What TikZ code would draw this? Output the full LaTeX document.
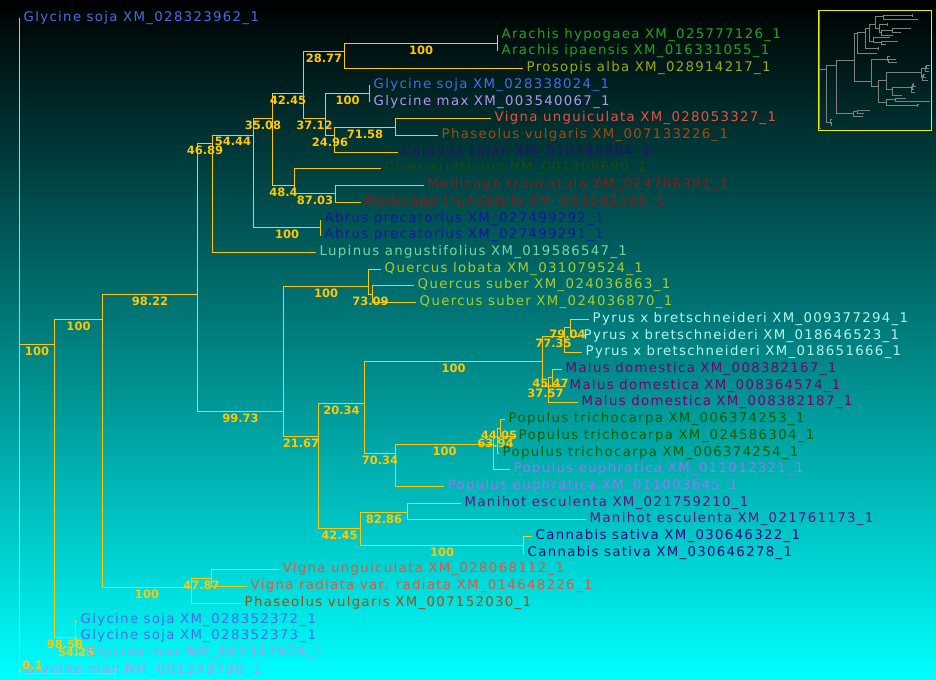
\documentclass[tikz,border=0pt]{standalone}
\usepackage{fontspec}
\setmainfont{DejaVu Sans}
\newfontfamily\leaffamily{DejaVu Sans}[LetterSpace=10]

\definecolor{branchgold}{RGB}{255,200,0}
\definecolor{bgcyan}{RGB}{0,255,255}
\definecolor{insetyellow}{RGB}{240,240,0}
\definecolor{minigray}{RGB}{128,128,128}
\definecolor{cSoja}{RGB}{70,110,230}
\definecolor{cMax}{RGB}{180,150,235}
\definecolor{cArachis}{RGB}{30,165,30}
\definecolor{cProsopis}{RGB}{160,170,10}
\definecolor{cVigna}{RGB}{225,85,65}
\definecolor{cPhas}{RGB}{165,75,10}
\definecolor{cCajanus}{RGB}{30,20,100}
\definecolor{cCicer}{RGB}{25,75,20}
\definecolor{cMedi}{RGB}{130,30,25}
\definecolor{cAbrus}{RGB}{20,20,170}
\definecolor{cLupinus}{RGB}{120,215,160}
\definecolor{cQuercus}{RGB}{170,205,40}
\definecolor{cPyrus}{RGB}{180,245,235}
\definecolor{cMalus}{RGB}{120,0,110}
\definecolor{cPopTri}{RGB}{0,95,0}
\definecolor{cPopEup}{RGB}{150,120,240}
\definecolor{cManihot}{RGB}{110,10,130}
\definecolor{cCannabis}{RGB}{10,10,120}

\newcommand{\leaffont}{\leaffamily\fontsize{13.3bp}{16bp}\selectfont}
\newcommand{\bootfont}{\bfseries\fontsize{11.5bp}{13bp}\selectfont}
% bootstrap value; the overview in the corner gobbles it
\newcommand{\bootval}[1]{#1}

% the tree itself, so that the overview in the corner can reuse it
\newcommand{\phylotree}[1]{%
    % Define the internal nodes, at the point where their branch comes in
    \coordinate (#1root) at (19,344);
    \coordinate (#1n1) at (54,344);
    \coordinate (#1n2) at (102,319);
    \coordinate (#1n3) at (75,637);
    \coordinate (#1n4) at (76,645);
    \coordinate (#1n5) at (197,294);
    \coordinate (#1n6) at (191,587);
    \coordinate (#1n7) at (211,578);
    \coordinate (#1n8) at (212,143);
    \coordinate (#1n9) at (283,411);
    \coordinate (#1n10) at (253,135);
    \coordinate (#1n11) at (272,118);
    \coordinate (#1n12) at (320,227);
    \coordinate (#1n13) at (303,93);
    \coordinate (#1n14) at (294,185);
    \coordinate (#1n15) at (335,193);
    \coordinate (#1n16) at (344,51);
    \coordinate (#1n17) at (325,118);
    \coordinate (#1n18) at (497,43);
    \coordinate (#1n19) at (369,93);
    \coordinate (#1n20) at (334,135);
    \coordinate (#1n21) at (395,127);
    \coordinate (#1n22) at (368,286);
    \coordinate (#1n23) at (372,294);
    \coordinate (#1n24) at (318,436);
    \coordinate (#1n25) at (364,403);
    \coordinate (#1n26) at (360,528);
    \coordinate (#1n27) at (542,361);
    \coordinate (#1n28) at (395,453);
    \coordinate (#1n29) at (564,336);
    \coordinate (#1n30) at (570,327);
    \coordinate (#1n31) at (548,386);
    \coordinate (#1n32) at (552,377);
    \coordinate (#1n33) at (493,444);
    \coordinate (#1n34) at (497,436);
    \coordinate (#1n35) at (500,428);
    \coordinate (#1n36) at (407,512);
    \coordinate (#1n37) at (523,545);
    % Define the leaves, at the end of their branch
    \coordinate (#1gsoja1) at (19,18);
    \coordinate (#1arahyp) at (497,35);
    \coordinate (#1araipa) at (497,51);
    \coordinate (#1prosopis) at (522,68);
    \coordinate (#1gsoja2) at (369,85);
    \coordinate (#1gmax1) at (369,102);
    \coordinate (#1vigna1) at (490,118);
    \coordinate (#1phas1) at (437,135);
    \coordinate (#1cajanus) at (397,152);
    \coordinate (#1cicer) at (380,168);
    \coordinate (#1medi1) at (423,185);
    \coordinate (#1medi2) at (360,202);
    \coordinate (#1abrus1) at (320,219);
    \coordinate (#1abrus2) at (320,235);
    \coordinate (#1lupinus) at (315,252);
    \coordinate (#1qlob) at (380,269);
    \coordinate (#1qsub1) at (413,285);
    \coordinate (#1qsub2) at (415,302);
    \coordinate (#1pyrus1) at (588,319);
    \coordinate (#1pyrus2) at (579,336);
    \coordinate (#1pyrus3) at (581,352);
    \coordinate (#1malus1) at (561,369);
    \coordinate (#1malus2) at (565,386);
    \coordinate (#1malus3) at (577,402);
    \coordinate (#1ptri1) at (504,419);
    \coordinate (#1ptri2) at (514,436);
    \coordinate (#1ptri3) at (498,453);
    \coordinate (#1peup1) at (509,469);
    \coordinate (#1peup2) at (443,486);
    \coordinate (#1mani1) at (460,503);
    \coordinate (#1mani2) at (585,519);
    \coordinate (#1cann1) at (531,536);
    \coordinate (#1cann2) at (523,553);
    \coordinate (#1vigna2) at (278,569);
    \coordinate (#1vradiata) at (246,586);
    \coordinate (#1phas2) at (240,603);
    \coordinate (#1gsoja3) at (76,620);
    \coordinate (#1gsoja4) at (76,636);
    \coordinate (#1gmax2) at (82,653);
    \coordinate (#1gmax3) at (20,670);
    % Draw the branches, with the bootstrap values under them
    \draw[branch] (#1root) |- (#1gsoja1);
    \draw[branch] (#1root) |- node[boot]{\bootval{100}} (#1n1);
    \draw[branch] (#1root) |- (#1gmax3);
    \draw[branch] (#1n1) |- node[boot]{\bootval{100}} (#1n2);
    \draw[branch] (#1n1) |- node[boot]{\bootval{98.58}} (#1n3);
    \draw[branch] (#1n3) |- (#1gsoja3);
    \draw[branch] (#1n3) |- node[boot]{\bootval{54.26}} (#1n4);
    \draw[branch] (#1n4) |- (#1gsoja4);
    \draw[branch] (#1n4) |- (#1gmax2);
    \draw[branch] (#1n2) |- node[boot]{\bootval{98.22}} (#1n5);
    \draw[branch] (#1n2) |- node[boot]{\bootval{100}} (#1n6);
    \draw[branch] (#1n6) |- node[boot]{\bootval{47.87}} (#1n7);
    \draw[branch] (#1n6) |- (#1phas2);
    \draw[branch] (#1n7) |- (#1vigna2);
    \draw[branch] (#1n7) |- (#1vradiata);
    \draw[branch] (#1n5) |- node[boot]{\bootval{46.89}} (#1n8);
    \draw[branch] (#1n5) |- node[boot]{\bootval{99.73}} (#1n9);
    \draw[branch] (#1n8) |- node[boot]{\bootval{54.44}} (#1n10);
    \draw[branch] (#1n8) |- (#1lupinus);
    \draw[branch] (#1n10) |- node[boot]{\bootval{35.08}} (#1n11);
    \draw[branch] (#1n10) |- node[boot]{\bootval{100}} (#1n12);
    \draw[branch] (#1n12) |- (#1abrus1);
    \draw[branch] (#1n12) |- (#1abrus2);
    \draw[branch] (#1n11) |- node[boot]{\bootval{42.45}} (#1n13);
    \draw[branch] (#1n11) |- node[boot]{\bootval{48.4}} (#1n14);
    \draw[branch] (#1n14) |- (#1cicer);
    \draw[branch] (#1n14) |- node[boot]{\bootval{87.03}} (#1n15);
    \draw[branch] (#1n15) |- (#1medi1);
    \draw[branch] (#1n15) |- (#1medi2);
    \draw[branch] (#1n13) |- node[boot]{\bootval{28.77}} (#1n16);
    \draw[branch] (#1n13) |- node[boot]{\bootval{37.12}} (#1n17);
    \draw[branch] (#1n16) |- node[boot]{\bootval{100}} (#1n18);
    \draw[branch] (#1n16) |- (#1prosopis);
    \draw[branch] (#1n18) |- (#1arahyp);
    \draw[branch] (#1n18) |- (#1araipa);
    \draw[branch] (#1n17) |- node[boot]{\bootval{100}} (#1n19);
    \draw[branch] (#1n17) |- node[boot]{\bootval{24.96}} (#1n20);
    \draw[branch] (#1n19) |- (#1gsoja2);
    \draw[branch] (#1n19) |- (#1gmax1);
    \draw[branch] (#1n20) |- node[boot]{\bootval{71.58}} (#1n21);
    \draw[branch] (#1n20) |- (#1cajanus);
    \draw[branch] (#1n21) |- (#1vigna1);
    \draw[branch] (#1n21) |- (#1phas1);
    \draw[branch] (#1n9) |- node[boot]{\bootval{100}} (#1n22);
    \draw[branch] (#1n9) |- node[boot]{\bootval{21.67}} (#1n24);
    \draw[branch] (#1n22) |- (#1qlob);
    \draw[branch] (#1n22) |- node[boot]{\bootval{73.09}} (#1n23);
    \draw[branch] (#1n23) |- (#1qsub1);
    \draw[branch] (#1n23) |- (#1qsub2);
    \draw[branch] (#1n24) |- node[boot]{\bootval{20.34}} (#1n25);
    \draw[branch] (#1n24) |- node[boot]{\bootval{42.45}} (#1n26);
    \draw[branch] (#1n25) |- node[boot]{\bootval{100}} (#1n27);
    \draw[branch] (#1n25) |- node[boot]{\bootval{70.34}} (#1n28);
    \draw[branch] (#1n27) |- node[boot]{\bootval{77.35}} (#1n29);
    \draw[branch] (#1n27) |- node[boot]{\bootval{37.57}} (#1n31);
    \draw[branch] (#1n29) |- node[boot]{\bootval{79.04}} (#1n30);
    \draw[branch] (#1n29) |- (#1pyrus3);
    \draw[branch] (#1n30) |- (#1pyrus1);
    \draw[branch] (#1n30) |- (#1pyrus2);
    \draw[branch] (#1n31) |- node[boot]{\bootval{45.47}} (#1n32);
    \draw[branch] (#1n31) |- (#1malus3);
    \draw[branch] (#1n32) |- (#1malus1);
    \draw[branch] (#1n32) |- (#1malus2);
    \draw[branch] (#1n28) |- node[boot]{\bootval{100}} (#1n33);
    \draw[branch] (#1n28) |- (#1peup2);
    \draw[branch] (#1n33) |- node[boot]{\bootval{63.94}} (#1n34);
    \draw[branch] (#1n33) |- (#1peup1);
    \draw[branch] (#1n34) |- node[boot]{\bootval{44.05}} (#1n35);
    \draw[branch] (#1n34) |- (#1ptri3);
    \draw[branch] (#1n35) |- (#1ptri1);
    \draw[branch] (#1n35) |- (#1ptri2);
    \draw[branch] (#1n26) |- node[boot]{\bootval{82.86}} (#1n36);
    \draw[branch] (#1n26) |- node[boot]{\bootval{100}} (#1n37);
    \draw[branch] (#1n36) |- (#1mani1);
    \draw[branch] (#1n36) |- (#1mani2);
    \draw[branch] (#1n37) |- (#1cann1);
    \draw[branch] (#1n37) |- (#1cann2);
}

\begin{document}
\begin{tikzpicture}[x=1bp, y=-1bp,
    branch/.style={draw=branchgold, line width=1bp},
    bootlabel/.style={text=branchgold, font=\bootfont, inner sep=1.5bp},
    boot/.style={bootlabel, pos=0.75, anchor=north},
    leaf/.style={anchor=west, inner xsep=4bp, inner ysep=1bp, font=\leaffont, text=#1}]

    % Background, black at the top to cyan at the bottom
    \useasboundingbox (0,0) rectangle (936,680);
    \shade[top color=black, bottom color=bgcyan] (0,0) rectangle (936,680);

    % The tree, moved half a pixel so that the thin lines stay sharp
    \begin{scope}[shift={(0.5,0.5)}]
    \phylotree{}

    % Leaf labels
    \node[leaf=cSoja] (tgsoja1) at (gsoja1) {Glycine soja XM\_028323962\_1};
    \node[leaf=cArachis] (tarahyp) at (arahyp) {Arachis hypogaea XM\_025777126\_1};
    \node[leaf=cArachis] (taraipa) at (araipa) {Arachis ipaensis XM\_016331055\_1};
    \node[leaf=cProsopis] (tprosopis) at (prosopis) {Prosopis alba XM\_028914217\_1};
    \node[leaf=cSoja] (tgsoja2) at (gsoja2) {Glycine soja XM\_028338024\_1};
    \node[leaf=cMax] (tgmax1) at (gmax1) {Glycine max XM\_003540067\_1};
    \node[leaf=cVigna] (tvigna1) at (vigna1) {Vigna unguiculata XM\_028053327\_1};
    \node[leaf=cPhas] (tphas1) at (phas1) {Phaseolus vulgaris XM\_007133226\_1};
    \node[leaf=cCajanus] (tcajanus) at (cajanus) {Cajanus cajan XM\_020348984\_1};
    \node[leaf=cCicer] (tcicer) at (cicer) {Cicer arietinum NM\_001309690\_1};
    \node[leaf=cMedi] (tmedi1) at (medi1) {Medicago truncatula XM\_024786391\_1};
    \node[leaf=cMedi] (tmedi2) at (medi2) {Medicago truncatula XM\_003592106\_1};
    \node[leaf=cAbrus] (tabrus1) at (abrus1) {Abrus precatorius XM\_027499292\_1};
    \node[leaf=cAbrus] (tabrus2) at (abrus2) {Abrus precatorius XM\_027499291\_1};
    \node[leaf=cLupinus] (tlupinus) at (lupinus) {Lupinus angustifolius XM\_019586547\_1};
    \node[leaf=cQuercus] (tqlob) at (qlob) {Quercus lobata XM\_031079524\_1};
    \node[leaf=cQuercus] (tqsub1) at (qsub1) {Quercus suber XM\_024036863\_1};
    \node[leaf=cQuercus] (tqsub2) at (qsub2) {Quercus suber XM\_024036870\_1};
    \node[leaf=cPyrus] (tpyrus1) at (pyrus1) {Pyrus x bretschneideri XM\_009377294\_1};
    \node[leaf=cPyrus] (tpyrus2) at (pyrus2) {Pyrus x bretschneideri XM\_018646523\_1};
    \node[leaf=cPyrus] (tpyrus3) at (pyrus3) {Pyrus x bretschneideri XM\_018651666\_1};
    \node[leaf=cMalus] (tmalus1) at (malus1) {Malus domestica XM\_008382167\_1};
    \node[leaf=cMalus] (tmalus2) at (malus2) {Malus domestica XM\_008364574\_1};
    \node[leaf=cMalus] (tmalus3) at (malus3) {Malus domestica XM\_008382187\_1};
    \node[leaf=cPopTri] (tptri1) at (ptri1) {Populus trichocarpa XM\_006374253\_1};
    \node[leaf=cPopTri] (tptri2) at (ptri2) {Populus trichocarpa XM\_024586304\_1};
    \node[leaf=cPopTri] (tptri3) at (ptri3) {Populus trichocarpa XM\_006374254\_1};
    \node[leaf=cPopEup] (tpeup1) at (peup1) {Populus euphratica XM\_011012321\_1};
    \node[leaf=cPopEup] (tpeup2) at (peup2) {Populus euphratica XM\_011003645\_1};
    \node[leaf=cManihot] (tmani1) at (mani1) {Manihot esculenta XM\_021759210\_1};
    \node[leaf=cManihot] (tmani2) at (mani2) {Manihot esculenta XM\_021761173\_1};
    \node[leaf=cCannabis] (tcann1) at (cann1) {Cannabis sativa XM\_030646322\_1};
    \node[leaf=cCannabis] (tcann2) at (cann2) {Cannabis sativa XM\_030646278\_1};
    \node[leaf=cVigna] (tvigna2) at (vigna2) {Vigna unguiculata XM\_028068112\_1};
    \node[leaf=cVigna] (tvradiata) at (vradiata) {Vigna radiata var. radiata XM\_014648226\_1};
    \node[leaf=cPhas] (tphas2) at (phas2) {Phaseolus vulgaris XM\_007152030\_1};
    \node[leaf=cSoja] (tgsoja3) at (gsoja3) {Glycine soja XM\_028352372\_1};
    \node[leaf=cSoja] (tgsoja4) at (gsoja4) {Glycine soja XM\_028352373\_1};
    \node[leaf=cMax] (tgmax2) at (gmax2) {Glycine max NM\_001317626\_1};
    \node[leaf=cMax] (tgmax3) at (gmax3) {Glycine max NM\_001249780\_1};

    % Scale bar
    \coordinate (sbl) at (19,673);
    \coordinate (sbr) at (115,673);
    \coordinate (sblt) at (19,667);
    \coordinate (sblb) at (19,679);
    \coordinate (sbrt) at (115,667);
    \coordinate (sbrb) at (115,679);
    \draw[branch] (sbl) -- (sbr);
    \draw[branch] (sblt) -- (sblb);
    \draw[branch] (sbrt) -- (sbrb);
    \node[bootlabel] (sblabel) at (32,665) {0.1};
    \end{scope}

    % Overview of the whole tree in the corner
    \draw[insetyellow, line width=1bp] (818.5,10.5) rectangle (931.5,130.5);
    \begin{scope}[shift={(816.3,7.76)}, xscale=0.194, yscale=0.18,
        branch/.style={draw=minigray, line width=1bp}, boot/.style={opacity=0}]
        \renewcommand{\bootval}[1]{}
        \phylotree{m}
    \end{scope}
\end{tikzpicture}
\end{document}
